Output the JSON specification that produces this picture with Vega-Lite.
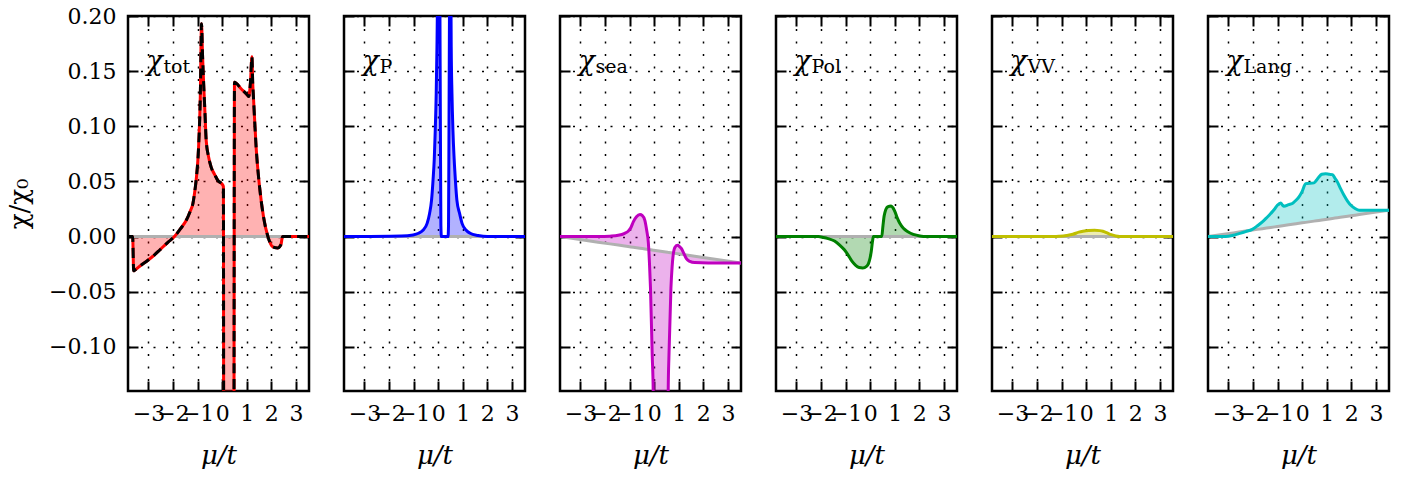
{
"$schema": "https://vega.github.io/schema/vega-lite/v6.json",
"background": "white",
"padding": {"left": 5, "top": 3, "right": 5, "bottom": 5},
"spacing": 35,
"bounds": "flush",
"datasets": {
"curves": [
{"panel":"tot","x":-3.83,"y":0,"base":0},{"panel":"tot","x":-3.64,"y":0,"base":0},{"panel":"tot","x":-3.6,"y":-0.031,"base":0},{"panel":"tot","x":-3.56,"y":-0.0305,"base":0},{"panel":"tot","x":-3.3,"y":-0.026,"base":0},{"panel":"tot","x":-3.02,"y":-0.0215,"base":0},{"panel":"tot","x":-2.75,"y":-0.0165,"base":0},{"panel":"tot","x":-2.55,"y":-0.0124,"base":0},{"panel":"tot","x":-2.2,"y":-0.005,"base":0},{"panel":"tot","x":-1.94,"y":0,"base":0},{"panel":"tot","x":-1.7,"y":0.007,"base":0},{"panel":"tot","x":-1.46,"y":0.0148,"base":0},{"panel":"tot","x":-1.3,"y":0.023,"base":0},{"panel":"tot","x":-1.19,"y":0.03,"base":0},{"panel":"tot","x":-1.12,"y":0.04,"base":0},{"panel":"tot","x":-1.06,"y":0.051,"base":0},{"panel":"tot","x":-0.96,"y":0.081,"base":0},{"panel":"tot","x":-0.89,"y":0.127,"base":0},{"panel":"tot","x":-0.84,"y":0.193,"base":0},{"panel":"tot","x":-0.8,"y":0.165,"base":0},{"panel":"tot","x":-0.76,"y":0.142,"base":0},{"panel":"tot","x":-0.7,"y":0.112,"base":0},{"panel":"tot","x":-0.65,"y":0.087,"base":0},{"panel":"tot","x":-0.55,"y":0.072,"base":0},{"panel":"tot","x":-0.45,"y":0.063,"base":0},{"panel":"tot","x":-0.3,"y":0.056,"base":0},{"panel":"tot","x":-0.18,"y":0.051,"base":0},{"panel":"tot","x":0.03,"y":0.0466,"base":0},{"panel":"tot","x":0.05,"y":0.045,"base":0},{"panel":"tot","x":0.07,"y":-0.5,"base":0},{"panel":"tot","x":0.46,"y":-0.5,"base":0},{"panel":"tot","x":0.5,"y":0.14,"base":0},{"panel":"tot","x":0.77,"y":0.134,"base":0},{"panel":"tot","x":1.04,"y":0.128,"base":0},{"panel":"tot","x":1.08,"y":0.127,"base":0},{"panel":"tot","x":1.15,"y":0.14,"base":0},{"panel":"tot","x":1.21,"y":0.163,"base":0},{"panel":"tot","x":1.24,"y":0.14,"base":0},{"panel":"tot","x":1.27,"y":0.127,"base":0},{"panel":"tot","x":1.38,"y":0.081,"base":0},{"panel":"tot","x":1.52,"y":0.045,"base":0},{"panel":"tot","x":1.68,"y":0.018,"base":0},{"panel":"tot","x":1.86,"y":0,"base":0},{"panel":"tot","x":2.06,"y":-0.0094,"base":0},{"panel":"tot","x":2.26,"y":-0.0103,"base":0},{"panel":"tot","x":2.34,"y":-0.009,"base":0},{"panel":"tot","x":2.4,"y":-0.0064,"base":0},{"panel":"tot","x":2.44,"y":-0.001,"base":0},{"panel":"tot","x":2.47,"y":0,"base":0},{"panel":"tot","x":3.53,"y":0,"base":0},
{"panel":"P","x":-3.83,"y":0,"base":0},{"panel":"P","x":-1.5,"y":0.0005,"base":0},{"panel":"P","x":-1.02,"y":0.0015,"base":0},{"panel":"P","x":-0.8,"y":0.003,"base":0},{"panel":"P","x":-0.62,"y":0.0057,"base":0},{"panel":"P","x":-0.45,"y":0.012,"base":0},{"panel":"P","x":-0.35,"y":0.021,"base":0},{"panel":"P","x":-0.27,"y":0.033,"base":0},{"panel":"P","x":-0.21,"y":0.051,"base":0},{"panel":"P","x":-0.16,"y":0.07,"base":0},{"panel":"P","x":-0.12,"y":0.096,"base":0},{"panel":"P","x":-0.08,"y":0.13,"base":0},{"panel":"P","x":-0.05,"y":0.172,"base":0},{"panel":"P","x":-0.03,"y":0.21,"base":0},{"panel":"P","x":0.02,"y":0.4,"base":0},{"panel":"P","x":0.07,"y":0.21,"base":0},{"panel":"P","x":0.09,"y":0.1,"base":0},{"panel":"P","x":0.11,"y":0.01,"base":0},{"panel":"P","x":0.13,"y":0,"base":0},{"panel":"P","x":0.4,"y":0,"base":0},{"panel":"P","x":0.42,"y":0.01,"base":0},{"panel":"P","x":0.44,"y":0.1,"base":0},{"panel":"P","x":0.46,"y":0.21,"base":0},{"panel":"P","x":0.49,"y":0.4,"base":0},{"panel":"P","x":0.52,"y":0.21,"base":0},{"panel":"P","x":0.53,"y":0.172,"base":0},{"panel":"P","x":0.56,"y":0.13,"base":0},{"panel":"P","x":0.6,"y":0.096,"base":0},{"panel":"P","x":0.65,"y":0.07,"base":0},{"panel":"P","x":0.7,"y":0.051,"base":0},{"panel":"P","x":0.76,"y":0.033,"base":0},{"panel":"P","x":0.87,"y":0.021,"base":0},{"panel":"P","x":0.97,"y":0.012,"base":0},{"panel":"P","x":1.14,"y":0.0057,"base":0},{"panel":"P","x":1.3,"y":0.003,"base":0},{"panel":"P","x":1.62,"y":0.001,"base":0},{"panel":"P","x":2.0,"y":0,"base":0},{"panel":"P","x":3.53,"y":0,"base":0},
{"panel":"sea","x":-3.83,"y":0,"base":0},{"panel":"sea","x":-2.28,"y":0,"base":-0.00504},{"panel":"sea","x":-1.8,"y":0.0004,"base":-0.0066},{"panel":"sea","x":-1.46,"y":0.0012,"base":-0.0077},{"panel":"sea","x":-1.2,"y":0.003,"base":-0.00855},{"panel":"sea","x":-1.06,"y":0.0048,"base":-0.009},{"panel":"sea","x":-0.95,"y":0.008,"base":-0.00936},{"panel":"sea","x":-0.85,"y":0.0133,"base":-0.00969},{"panel":"sea","x":-0.72,"y":0.018,"base":-0.01011},{"panel":"sea","x":-0.58,"y":0.02,"base":-0.01057},{"panel":"sea","x":-0.48,"y":0.019,"base":-0.01089},{"panel":"sea","x":-0.38,"y":0.0148,"base":-0.01121},{"panel":"sea","x":-0.3,"y":0.005,"base":-0.01147},{"panel":"sea","x":-0.24,"y":-0.0048,"base":-0.01167},{"panel":"sea","x":-0.19,"y":-0.025,"base":-0.01183},{"panel":"sea","x":-0.15,"y":-0.047,"base":-0.01196},{"panel":"sea","x":-0.08,"y":-0.108,"base":-0.01219},{"panel":"sea","x":-0.04,"y":-0.14,"base":-0.01232},{"panel":"sea","x":-0.02,"y":-0.4,"base":-0.01238},{"panel":"sea","x":0.54,"y":-0.4,"base":-0.0142},{"panel":"sea","x":0.57,"y":-0.14,"base":-0.0143},{"panel":"sea","x":0.6,"y":-0.108,"base":-0.0144},{"panel":"sea","x":0.68,"y":-0.047,"base":-0.01466},{"panel":"sea","x":0.73,"y":-0.027,"base":-0.01482},{"panel":"sea","x":0.77,"y":-0.017,"base":-0.01495},{"panel":"sea","x":0.85,"y":-0.0095,"base":-0.01521},{"panel":"sea","x":0.95,"y":-0.0079,"base":-0.01554},{"panel":"sea","x":1.03,"y":-0.009,"base":-0.0158},{"panel":"sea","x":1.11,"y":-0.0109,"base":-0.01606},{"panel":"sea","x":1.2,"y":-0.015,"base":-0.01635},{"panel":"sea","x":1.31,"y":-0.02,"base":-0.01671},{"panel":"sea","x":1.45,"y":-0.0225,"base":-0.01716},{"panel":"sea","x":1.65,"y":-0.0236,"base":-0.01781},{"panel":"sea","x":2.2,"y":-0.0239,"base":-0.0196},{"panel":"sea","x":3.53,"y":-0.0239,"base":-0.02392},
{"panel":"Pol","x":-3.83,"y":0,"base":0},{"panel":"Pol","x":-2.11,"y":0,"base":0},{"panel":"Pol","x":-1.9,"y":-0.0008,"base":0},{"panel":"Pol","x":-1.71,"y":-0.0018,"base":0},{"panel":"Pol","x":-1.45,"y":-0.004,"base":0},{"panel":"Pol","x":-1.23,"y":-0.0079,"base":0},{"panel":"Pol","x":-1.05,"y":-0.012,"base":0},{"panel":"Pol","x":-0.89,"y":-0.017,"base":0},{"panel":"Pol","x":-0.75,"y":-0.022,"base":0},{"panel":"Pol","x":-0.59,"y":-0.026,"base":0},{"panel":"Pol","x":-0.45,"y":-0.028,"base":0},{"panel":"Pol","x":-0.3,"y":-0.0284,"base":0},{"panel":"Pol","x":-0.15,"y":-0.027,"base":0},{"panel":"Pol","x":-0.07,"y":-0.0245,"base":0},{"panel":"Pol","x":0.0,"y":-0.019,"base":0},{"panel":"Pol","x":0.04,"y":-0.014,"base":0},{"panel":"Pol","x":0.09,"y":-0.005,"base":0},{"panel":"Pol","x":0.13,"y":0,"base":0},{"panel":"Pol","x":0.47,"y":0,"base":0},{"panel":"Pol","x":0.52,"y":0.01,"base":0},{"panel":"Pol","x":0.57,"y":0.019,"base":0},{"panel":"Pol","x":0.71,"y":0.027,"base":0},{"panel":"Pol","x":0.85,"y":0.0278,"base":0},{"panel":"Pol","x":0.93,"y":0.026,"base":0},{"panel":"Pol","x":1.01,"y":0.0224,"base":0},{"panel":"Pol","x":1.1,"y":0.017,"base":0},{"panel":"Pol","x":1.21,"y":0.0118,"base":0},{"panel":"Pol","x":1.35,"y":0.0075,"base":0},{"panel":"Pol","x":1.55,"y":0.0042,"base":0},{"panel":"Pol","x":2.02,"y":0.0006,"base":0},{"panel":"Pol","x":2.3,"y":0,"base":0},{"panel":"Pol","x":3.53,"y":0,"base":0},
{"panel":"VV","x":-3.83,"y":0,"base":0},{"panel":"VV","x":-1.3,"y":0,"base":0},{"panel":"VV","x":-1.08,"y":0.0003,"base":0},{"panel":"VV","x":-0.8,"y":0.001,"base":0},{"panel":"VV","x":-0.54,"y":0.0021,"base":0},{"panel":"VV","x":-0.3,"y":0.004,"base":0},{"panel":"VV","x":-0.13,"y":0.0048,"base":0},{"panel":"VV","x":0.1,"y":0.0055,"base":0},{"panel":"VV","x":0.34,"y":0.0057,"base":0},{"panel":"VV","x":0.55,"y":0.0054,"base":0},{"panel":"VV","x":0.68,"y":0.0048,"base":0},{"panel":"VV","x":0.85,"y":0.0033,"base":0},{"panel":"VV","x":1.02,"y":0.0018,"base":0},{"panel":"VV","x":1.2,"y":0.0006,"base":0},{"panel":"VV","x":1.36,"y":0.0001,"base":0},{"panel":"VV","x":1.6,"y":0,"base":0},{"panel":"VV","x":3.53,"y":0,"base":0},
{"panel":"Lang","x":-3.83,"y":0,"base":0},{"panel":"Lang","x":-3.11,"y":0,"base":0.00234},{"panel":"Lang","x":-2.8,"y":0.0012,"base":0.00335},{"panel":"Lang","x":-2.57,"y":0.0027,"base":0.0041},{"panel":"Lang","x":-2.3,"y":0.0045,"base":0.00498},{"panel":"Lang","x":-2.03,"y":0.0066,"base":0.00585},{"panel":"Lang","x":-1.82,"y":0.0098,"base":0.00653},{"panel":"Lang","x":-1.62,"y":0.0133,"base":0.00718},{"panel":"Lang","x":-1.45,"y":0.017,"base":0.00774},{"panel":"Lang","x":-1.28,"y":0.0209,"base":0.00829},{"panel":"Lang","x":-1.12,"y":0.025,"base":0.00881},{"panel":"Lang","x":-1.01,"y":0.0284,"base":0.00916},{"panel":"Lang","x":-0.87,"y":0.0305,"base":0.00962},{"panel":"Lang","x":-0.8,"y":0.0285,"base":0.00985},{"panel":"Lang","x":-0.74,"y":0.0275,"base":0.01004},{"panel":"Lang","x":-0.55,"y":0.029,"base":0.01066},{"panel":"Lang","x":-0.4,"y":0.03,"base":0.01115},{"panel":"Lang","x":-0.25,"y":0.033,"base":0.01164},{"panel":"Lang","x":-0.13,"y":0.036,"base":0.01203},{"panel":"Lang","x":0.0,"y":0.041,"base":0.01245},{"panel":"Lang","x":0.14,"y":0.048,"base":0.0129},{"panel":"Lang","x":0.48,"y":0.0487,"base":0.01401},{"panel":"Lang","x":0.58,"y":0.051,"base":0.01433},{"panel":"Lang","x":0.68,"y":0.054,"base":0.01466},{"panel":"Lang","x":0.8,"y":0.0565,"base":0.01505},{"panel":"Lang","x":0.95,"y":0.057,"base":0.01554},{"panel":"Lang","x":1.1,"y":0.0565,"base":0.01602},{"panel":"Lang","x":1.23,"y":0.0562,"base":0.01645},{"panel":"Lang","x":1.33,"y":0.053,"base":0.01677},{"panel":"Lang","x":1.43,"y":0.0496,"base":0.0171},{"panel":"Lang","x":1.55,"y":0.044,"base":0.01749},{"panel":"Lang","x":1.7,"y":0.0375,"base":0.01797},{"panel":"Lang","x":1.85,"y":0.032,"base":0.01846},{"panel":"Lang","x":1.98,"y":0.0284,"base":0.01888},{"panel":"Lang","x":2.15,"y":0.0255,"base":0.01944},{"panel":"Lang","x":2.32,"y":0.0239,"base":0.01999},{"panel":"Lang","x":2.8,"y":0.0239,"base":0.02155},{"panel":"Lang","x":3.53,"y":0.0239,"base":0.02392}
],
"labels": [
{"panel":"tot","x":-3.08,"y":0.151,"chi":"χ","sub":"tot"},
{"panel":"P","x":-3.08,"y":0.151,"chi":"χ","sub":"P"},
{"panel":"sea","x":-3.08,"y":0.151,"chi":"χ","sub":"sea"},
{"panel":"Pol","x":-3.08,"y":0.151,"chi":"χ","sub":"Pol"},
{"panel":"VV","x":-3.08,"y":0.151,"chi":"χ","sub":"VV"},
{"panel":"Lang","x":-3.08,"y":0.151,"chi":"χ","sub":"Lang"}
]
},
"hconcat": [
{"width":181,"height":375,"resolve":{"axis":{"x":"independent","y":"independent"}},"layer":[
 {"data":{"name":"curves"},"transform":[{"filter":"datum.panel === 'tot'"}],"mark":{"type":"area","color":"#ff0000","opacity":0.3,"clip":true,"interpolate":"monotone"},
  "encoding":{"x":{"field":"x","type":"quantitative","scale":{"domain":[-3.83,3.53],"nice":false,"zero":false},"axis":{"orient":"bottom","values":[-3,-2,-1,0,1,2,3],"format":"d","grid":true,"title":"μ/t"}},
   "y":{"field":"y","type":"quantitative","scale":{"domain":[-0.14,0.2],"nice":false,"zero":false},"axis":{"orient":"left","values":[-0.1,-0.05,0,0.05,0.1,0.15,0.2],"format":".2f","title":"χ/χ₀"}},
   "y2":{"field":"base"}}},
 {"data":{"name":"curves"},"transform":[{"filter":"datum.panel === 'tot'"}],"mark":{"type":"line","color":"#b0b0b0","strokeWidth":3,"clip":true},
  "encoding":{"x":{"field":"x","type":"quantitative","scale":{"domain":[-3.83,3.53],"nice":false,"zero":false},"axis":{"orient":"top","values":[-3,-2,-1,0,1,2,3],"labels":false,"grid":false,"title":null}},
   "y":{"field":"base","type":"quantitative","scale":{"domain":[-0.14,0.2],"nice":false,"zero":false},"axis":{"orient":"right","values":[-0.1,-0.05,0,0.05,0.1,0.15,0.2],"labels":false,"title":null}}}},
 {"data":{"name":"curves"},"transform":[{"filter":"datum.panel === 'tot'"}],"mark":{"type":"line","color":"#ff0000","strokeWidth":3,"clip":true,"interpolate":"monotone"},
  "encoding":{"x":{"field":"x","type":"quantitative","scale":{"domain":[-3.83,3.53],"nice":false,"zero":false},"axis":null},"y":{"field":"y","type":"quantitative","scale":{"domain":[-0.14,0.2],"nice":false,"zero":false},"axis":null}}},
 {"data":{"name":"curves"},"transform":[{"filter":"datum.panel === 'tot'"}],"mark":{"type":"line","color":"#000000","strokeWidth":3,"strokeDash":[10,6],"clip":true,"interpolate":"monotone"},
  "encoding":{"x":{"field":"x","type":"quantitative","scale":{"domain":[-3.83,3.53],"nice":false,"zero":false},"axis":null},"y":{"field":"y","type":"quantitative","scale":{"domain":[-0.14,0.2],"nice":false,"zero":false},"axis":null}}},
 {"data":{"name":"labels"},"transform":[{"filter":"datum.panel === 'tot'"}],"mark":{"type":"text","font":"DejaVu Serif","fontStyle":"italic","fontSize":27,"align":"left","baseline":"alphabetic"},
  "encoding":{"x":{"field":"x","type":"quantitative","scale":{"domain":[-3.83,3.53],"nice":false,"zero":false},"axis":null},"y":{"field":"y","type":"quantitative","scale":{"domain":[-0.14,0.2],"nice":false,"zero":false},"axis":null},"text":{"field":"chi"}}},
 {"data":{"name":"labels"},"transform":[{"filter":"datum.panel === 'tot'"}],"mark":{"type":"text","font":"DejaVu Serif","fontSize":19,"align":"left","baseline":"alphabetic","dx":17,"dy":3},
  "encoding":{"x":{"field":"x","type":"quantitative","scale":{"domain":[-3.83,3.53],"nice":false,"zero":false},"axis":null},"y":{"field":"y","type":"quantitative","scale":{"domain":[-0.14,0.2],"nice":false,"zero":false},"axis":null},"text":{"field":"sub"}}}
]},
{"width":181,"height":375,"resolve":{"axis":{"x":"independent","y":"independent"}},"layer":[
 {"data":{"name":"curves"},"transform":[{"filter":"datum.panel === 'P'"}],"mark":{"type":"area","color":"#0000ff","opacity":0.3,"clip":true,"interpolate":"monotone"},
  "encoding":{"x":{"field":"x","type":"quantitative","scale":{"domain":[-3.83,3.53],"nice":false,"zero":false},"axis":{"orient":"bottom","values":[-3,-2,-1,0,1,2,3],"format":"d","grid":true,"title":"μ/t"}},
   "y":{"field":"y","type":"quantitative","scale":{"domain":[-0.14,0.2],"nice":false,"zero":false},"axis":{"orient":"left","values":[-0.1,-0.05,0,0.05,0.1,0.15,0.2],"labels":false,"title":null}},
   "y2":{"field":"base"}}},
 {"data":{"name":"curves"},"transform":[{"filter":"datum.panel === 'P'"}],"mark":{"type":"line","color":"#b0b0b0","strokeWidth":3,"clip":true},
  "encoding":{"x":{"field":"x","type":"quantitative","scale":{"domain":[-3.83,3.53],"nice":false,"zero":false},"axis":{"orient":"top","values":[-3,-2,-1,0,1,2,3],"labels":false,"grid":false,"title":null}},
   "y":{"field":"base","type":"quantitative","scale":{"domain":[-0.14,0.2],"nice":false,"zero":false},"axis":{"orient":"right","values":[-0.1,-0.05,0,0.05,0.1,0.15,0.2],"labels":false,"title":null}}}},
 {"data":{"name":"curves"},"transform":[{"filter":"datum.panel === 'P'"}],"mark":{"type":"line","color":"#0000ff","strokeWidth":3,"clip":true,"interpolate":"monotone"},
  "encoding":{"x":{"field":"x","type":"quantitative","scale":{"domain":[-3.83,3.53],"nice":false,"zero":false},"axis":null},"y":{"field":"y","type":"quantitative","scale":{"domain":[-0.14,0.2],"nice":false,"zero":false},"axis":null}}},
 {"data":{"name":"labels"},"transform":[{"filter":"datum.panel === 'P'"}],"mark":{"type":"text","font":"DejaVu Serif","fontStyle":"italic","fontSize":27,"align":"left","baseline":"alphabetic"},
  "encoding":{"x":{"field":"x","type":"quantitative","scale":{"domain":[-3.83,3.53],"nice":false,"zero":false},"axis":null},"y":{"field":"y","type":"quantitative","scale":{"domain":[-0.14,0.2],"nice":false,"zero":false},"axis":null},"text":{"field":"chi"}}},
 {"data":{"name":"labels"},"transform":[{"filter":"datum.panel === 'P'"}],"mark":{"type":"text","font":"DejaVu Serif","fontSize":19,"align":"left","baseline":"alphabetic","dx":17,"dy":3},
  "encoding":{"x":{"field":"x","type":"quantitative","scale":{"domain":[-3.83,3.53],"nice":false,"zero":false},"axis":null},"y":{"field":"y","type":"quantitative","scale":{"domain":[-0.14,0.2],"nice":false,"zero":false},"axis":null},"text":{"field":"sub"}}}
]},
{"width":181,"height":375,"resolve":{"axis":{"x":"independent","y":"independent"}},"layer":[
 {"data":{"name":"curves"},"transform":[{"filter":"datum.panel === 'sea'"}],"mark":{"type":"area","color":"#bf00bf","opacity":0.3,"clip":true,"interpolate":"monotone"},
  "encoding":{"x":{"field":"x","type":"quantitative","scale":{"domain":[-3.83,3.53],"nice":false,"zero":false},"axis":{"orient":"bottom","values":[-3,-2,-1,0,1,2,3],"format":"d","grid":true,"title":"μ/t"}},
   "y":{"field":"y","type":"quantitative","scale":{"domain":[-0.14,0.2],"nice":false,"zero":false},"axis":{"orient":"left","values":[-0.1,-0.05,0,0.05,0.1,0.15,0.2],"labels":false,"title":null}},
   "y2":{"field":"base"}}},
 {"data":{"name":"curves"},"transform":[{"filter":"datum.panel === 'sea'"}],"mark":{"type":"line","color":"#b0b0b0","strokeWidth":3,"clip":true},
  "encoding":{"x":{"field":"x","type":"quantitative","scale":{"domain":[-3.83,3.53],"nice":false,"zero":false},"axis":{"orient":"top","values":[-3,-2,-1,0,1,2,3],"labels":false,"grid":false,"title":null}},
   "y":{"field":"base","type":"quantitative","scale":{"domain":[-0.14,0.2],"nice":false,"zero":false},"axis":{"orient":"right","values":[-0.1,-0.05,0,0.05,0.1,0.15,0.2],"labels":false,"title":null}}}},
 {"data":{"name":"curves"},"transform":[{"filter":"datum.panel === 'sea'"}],"mark":{"type":"line","color":"#bf00bf","strokeWidth":3,"clip":true,"interpolate":"monotone"},
  "encoding":{"x":{"field":"x","type":"quantitative","scale":{"domain":[-3.83,3.53],"nice":false,"zero":false},"axis":null},"y":{"field":"y","type":"quantitative","scale":{"domain":[-0.14,0.2],"nice":false,"zero":false},"axis":null}}},
 {"data":{"name":"labels"},"transform":[{"filter":"datum.panel === 'sea'"}],"mark":{"type":"text","font":"DejaVu Serif","fontStyle":"italic","fontSize":27,"align":"left","baseline":"alphabetic"},
  "encoding":{"x":{"field":"x","type":"quantitative","scale":{"domain":[-3.83,3.53],"nice":false,"zero":false},"axis":null},"y":{"field":"y","type":"quantitative","scale":{"domain":[-0.14,0.2],"nice":false,"zero":false},"axis":null},"text":{"field":"chi"}}},
 {"data":{"name":"labels"},"transform":[{"filter":"datum.panel === 'sea'"}],"mark":{"type":"text","font":"DejaVu Serif","fontSize":19,"align":"left","baseline":"alphabetic","dx":17,"dy":3},
  "encoding":{"x":{"field":"x","type":"quantitative","scale":{"domain":[-3.83,3.53],"nice":false,"zero":false},"axis":null},"y":{"field":"y","type":"quantitative","scale":{"domain":[-0.14,0.2],"nice":false,"zero":false},"axis":null},"text":{"field":"sub"}}}
]},
{"width":181,"height":375,"resolve":{"axis":{"x":"independent","y":"independent"}},"layer":[
 {"data":{"name":"curves"},"transform":[{"filter":"datum.panel === 'Pol'"}],"mark":{"type":"area","color":"#008000","opacity":0.3,"clip":true,"interpolate":"monotone"},
  "encoding":{"x":{"field":"x","type":"quantitative","scale":{"domain":[-3.83,3.53],"nice":false,"zero":false},"axis":{"orient":"bottom","values":[-3,-2,-1,0,1,2,3],"format":"d","grid":true,"title":"μ/t"}},
   "y":{"field":"y","type":"quantitative","scale":{"domain":[-0.14,0.2],"nice":false,"zero":false},"axis":{"orient":"left","values":[-0.1,-0.05,0,0.05,0.1,0.15,0.2],"labels":false,"title":null}},
   "y2":{"field":"base"}}},
 {"data":{"name":"curves"},"transform":[{"filter":"datum.panel === 'Pol'"}],"mark":{"type":"line","color":"#b0b0b0","strokeWidth":3,"clip":true},
  "encoding":{"x":{"field":"x","type":"quantitative","scale":{"domain":[-3.83,3.53],"nice":false,"zero":false},"axis":{"orient":"top","values":[-3,-2,-1,0,1,2,3],"labels":false,"grid":false,"title":null}},
   "y":{"field":"base","type":"quantitative","scale":{"domain":[-0.14,0.2],"nice":false,"zero":false},"axis":{"orient":"right","values":[-0.1,-0.05,0,0.05,0.1,0.15,0.2],"labels":false,"title":null}}}},
 {"data":{"name":"curves"},"transform":[{"filter":"datum.panel === 'Pol'"}],"mark":{"type":"line","color":"#008000","strokeWidth":3,"clip":true,"interpolate":"monotone"},
  "encoding":{"x":{"field":"x","type":"quantitative","scale":{"domain":[-3.83,3.53],"nice":false,"zero":false},"axis":null},"y":{"field":"y","type":"quantitative","scale":{"domain":[-0.14,0.2],"nice":false,"zero":false},"axis":null}}},
 {"data":{"name":"labels"},"transform":[{"filter":"datum.panel === 'Pol'"}],"mark":{"type":"text","font":"DejaVu Serif","fontStyle":"italic","fontSize":27,"align":"left","baseline":"alphabetic"},
  "encoding":{"x":{"field":"x","type":"quantitative","scale":{"domain":[-3.83,3.53],"nice":false,"zero":false},"axis":null},"y":{"field":"y","type":"quantitative","scale":{"domain":[-0.14,0.2],"nice":false,"zero":false},"axis":null},"text":{"field":"chi"}}},
 {"data":{"name":"labels"},"transform":[{"filter":"datum.panel === 'Pol'"}],"mark":{"type":"text","font":"DejaVu Serif","fontSize":19,"align":"left","baseline":"alphabetic","dx":17,"dy":3},
  "encoding":{"x":{"field":"x","type":"quantitative","scale":{"domain":[-3.83,3.53],"nice":false,"zero":false},"axis":null},"y":{"field":"y","type":"quantitative","scale":{"domain":[-0.14,0.2],"nice":false,"zero":false},"axis":null},"text":{"field":"sub"}}}
]},
{"width":181,"height":375,"resolve":{"axis":{"x":"independent","y":"independent"}},"layer":[
 {"data":{"name":"curves"},"transform":[{"filter":"datum.panel === 'VV'"}],"mark":{"type":"area","color":"#bfbf00","opacity":0.3,"clip":true,"interpolate":"monotone"},
  "encoding":{"x":{"field":"x","type":"quantitative","scale":{"domain":[-3.83,3.53],"nice":false,"zero":false},"axis":{"orient":"bottom","values":[-3,-2,-1,0,1,2,3],"format":"d","grid":true,"title":"μ/t"}},
   "y":{"field":"y","type":"quantitative","scale":{"domain":[-0.14,0.2],"nice":false,"zero":false},"axis":{"orient":"left","values":[-0.1,-0.05,0,0.05,0.1,0.15,0.2],"labels":false,"title":null}},
   "y2":{"field":"base"}}},
 {"data":{"name":"curves"},"transform":[{"filter":"datum.panel === 'VV'"}],"mark":{"type":"line","color":"#b0b0b0","strokeWidth":3,"clip":true},
  "encoding":{"x":{"field":"x","type":"quantitative","scale":{"domain":[-3.83,3.53],"nice":false,"zero":false},"axis":{"orient":"top","values":[-3,-2,-1,0,1,2,3],"labels":false,"grid":false,"title":null}},
   "y":{"field":"base","type":"quantitative","scale":{"domain":[-0.14,0.2],"nice":false,"zero":false},"axis":{"orient":"right","values":[-0.1,-0.05,0,0.05,0.1,0.15,0.2],"labels":false,"title":null}}}},
 {"data":{"name":"curves"},"transform":[{"filter":"datum.panel === 'VV'"}],"mark":{"type":"line","color":"#bfbf00","strokeWidth":3,"clip":true,"interpolate":"monotone"},
  "encoding":{"x":{"field":"x","type":"quantitative","scale":{"domain":[-3.83,3.53],"nice":false,"zero":false},"axis":null},"y":{"field":"y","type":"quantitative","scale":{"domain":[-0.14,0.2],"nice":false,"zero":false},"axis":null}}},
 {"data":{"name":"labels"},"transform":[{"filter":"datum.panel === 'VV'"}],"mark":{"type":"text","font":"DejaVu Serif","fontStyle":"italic","fontSize":27,"align":"left","baseline":"alphabetic"},
  "encoding":{"x":{"field":"x","type":"quantitative","scale":{"domain":[-3.83,3.53],"nice":false,"zero":false},"axis":null},"y":{"field":"y","type":"quantitative","scale":{"domain":[-0.14,0.2],"nice":false,"zero":false},"axis":null},"text":{"field":"chi"}}},
 {"data":{"name":"labels"},"transform":[{"filter":"datum.panel === 'VV'"}],"mark":{"type":"text","font":"DejaVu Serif","fontSize":19,"align":"left","baseline":"alphabetic","dx":17,"dy":3},
  "encoding":{"x":{"field":"x","type":"quantitative","scale":{"domain":[-3.83,3.53],"nice":false,"zero":false},"axis":null},"y":{"field":"y","type":"quantitative","scale":{"domain":[-0.14,0.2],"nice":false,"zero":false},"axis":null},"text":{"field":"sub"}}}
]},
{"width":181,"height":375,"resolve":{"axis":{"x":"independent","y":"independent"}},"layer":[
 {"data":{"name":"curves"},"transform":[{"filter":"datum.panel === 'Lang'"}],"mark":{"type":"area","color":"#00bfbf","opacity":0.3,"clip":true,"interpolate":"monotone"},
  "encoding":{"x":{"field":"x","type":"quantitative","scale":{"domain":[-3.83,3.53],"nice":false,"zero":false},"axis":{"orient":"bottom","values":[-3,-2,-1,0,1,2,3],"format":"d","grid":true,"title":"μ/t"}},
   "y":{"field":"y","type":"quantitative","scale":{"domain":[-0.14,0.2],"nice":false,"zero":false},"axis":{"orient":"left","values":[-0.1,-0.05,0,0.05,0.1,0.15,0.2],"labels":false,"title":null}},
   "y2":{"field":"base"}}},
 {"data":{"name":"curves"},"transform":[{"filter":"datum.panel === 'Lang'"}],"mark":{"type":"line","color":"#b0b0b0","strokeWidth":3,"clip":true},
  "encoding":{"x":{"field":"x","type":"quantitative","scale":{"domain":[-3.83,3.53],"nice":false,"zero":false},"axis":{"orient":"top","values":[-3,-2,-1,0,1,2,3],"labels":false,"grid":false,"title":null}},
   "y":{"field":"base","type":"quantitative","scale":{"domain":[-0.14,0.2],"nice":false,"zero":false},"axis":{"orient":"right","values":[-0.1,-0.05,0,0.05,0.1,0.15,0.2],"labels":false,"title":null}}}},
 {"data":{"name":"curves"},"transform":[{"filter":"datum.panel === 'Lang'"}],"mark":{"type":"line","color":"#00bfbf","strokeWidth":3,"clip":true,"interpolate":"monotone"},
  "encoding":{"x":{"field":"x","type":"quantitative","scale":{"domain":[-3.83,3.53],"nice":false,"zero":false},"axis":null},"y":{"field":"y","type":"quantitative","scale":{"domain":[-0.14,0.2],"nice":false,"zero":false},"axis":null}}},
 {"data":{"name":"labels"},"transform":[{"filter":"datum.panel === 'Lang'"}],"mark":{"type":"text","font":"DejaVu Serif","fontStyle":"italic","fontSize":27,"align":"left","baseline":"alphabetic"},
  "encoding":{"x":{"field":"x","type":"quantitative","scale":{"domain":[-3.83,3.53],"nice":false,"zero":false},"axis":null},"y":{"field":"y","type":"quantitative","scale":{"domain":[-0.14,0.2],"nice":false,"zero":false},"axis":null},"text":{"field":"chi"}}},
 {"data":{"name":"labels"},"transform":[{"filter":"datum.panel === 'Lang'"}],"mark":{"type":"text","font":"DejaVu Serif","fontSize":19,"align":"left","baseline":"alphabetic","dx":17,"dy":3},
  "encoding":{"x":{"field":"x","type":"quantitative","scale":{"domain":[-3.83,3.53],"nice":false,"zero":false},"axis":null},"y":{"field":"y","type":"quantitative","scale":{"domain":[-0.14,0.2],"nice":false,"zero":false},"axis":null},"text":{"field":"sub"}}}
]}
],
"config": {
 "view": {"stroke": "#000000", "strokeWidth": 2.5},
 "axis": {"domain": false, "tickSize": -10, "tickWidth": 2, "tickColor": "#000000", "labelFont": "DejaVu Serif", "labelFontSize": 22, "labelColor": "#000000", "labelPadding": 22, "labelFlush": false, "labelOverlap": false, "titleFont": "DejaVu Serif", "titleFontSize": 26, "titleFontWeight": "normal", "titleColor": "#000000", "gridColor": "#000000", "gridDash": [2, 10.5], "gridWidth": 1.5, "gridOpacity": 1},
 "axisX": {"titlePadding": 18, "titleFontStyle": "italic"},
 "axisY": {"titlePadding": 16}
}
}
